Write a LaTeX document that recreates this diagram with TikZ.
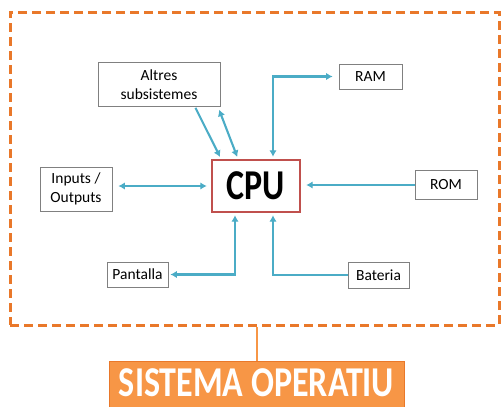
\documentclass[tikz,border=0pt]{standalone}
\usepackage{fontspec}
\setmainfont{Carlito}
\usetikzlibrary{positioning,arrows.meta}

\definecolor{linkc}{HTML}{4BACC6}
\definecolor{cpuc}{HTML}{C0504D}
\definecolor{osc}{HTML}{F79646}
\definecolor{framec}{HTML}{E9782A}

\newcommand{\tallbox}[1]{\scalebox{1}[1.25]{#1}}

\tikzset{
  part/.style={draw=black!50, line width=0.8pt, align=center, font=\fontsize{15.5}{19}\selectfont, inner sep=0pt},
  link/.style={draw=linkc, line width=2.1pt, arrows={-Latex[length=6.5pt,width=7.5pt]}},
  both/.style={link, arrows={Latex[length=6.5pt,width=7.5pt]-Latex[length=6.5pt,width=7.5pt]}}
}

\begin{document}
\begin{tikzpicture}[x=1pt,y=-1pt]
        \useasboundingbox (0,0) rectangle (501,407);
        %marc del sistema
        \node[draw=framec, line width=3pt, dash pattern=on 9pt off 5pt, minimum width=489pt, minimum height=313pt, inner sep=0pt] (os) at (254.5,168.5) {};

        %nucli
        \node[draw=cpuc, line width=2.4pt, minimum width=88pt, minimum height=52pt, inner sep=0pt, font=\bfseries\fontsize{34}{34}\selectfont] (cpu) at (256,186) {\tallbox{CPU}};

        %subsistemes
        \node[part, minimum width=122pt, minimum height=44pt] (altres) at (159,84.5) {Altres\\subsistemes};
        \node[part, minimum width=72pt, minimum height=44pt] (io) at (76,189) {Inputs /\\Outputs};
        \node[part, minimum width=63pt, minimum height=25pt] (ram) at (370.5,76.5) {RAM};
        \node[part, minimum width=62pt, minimum height=29pt] (rom) at (446,185) {ROM};
        \node[part, minimum width=61pt, minimum height=25pt] (pantalla) at (137.5,274.5) {Pantalla};
        \node[part, minimum width=61pt, minimum height=26pt] (bateria) at (378.5,275) {Bateria};

        %etiqueta
        \node[draw=framec, fill=osc, line width=1pt, minimum width=295pt, minimum height=46pt, inner sep=0pt, text=white, font=\bfseries\fontsize{34}{34}\selectfont, anchor=north] (sistema) at (256.5,360.5) {\raisebox{2pt}{\tallbox{SISTEMA OPERATIU}}};
        \draw[draw=osc, line width=2pt] (sistema.north) -- (sistema.north |- os.south);

        %connexions
        \draw[link, shorten <=1pt, shorten >=2pt] ([xshift=36pt]altres.south) -- ([xshift=-35pt]cpu.north);
        \draw[both, shorten <=3pt, shorten >=2pt] ([xshift=59pt]altres.south) -- ([xshift=-18pt]cpu.north);
        \draw[both, shorten <=6pt, shorten >=4pt] (io.east |- cpu.west) -- (cpu.west);
        \draw[both, shorten <=2pt, shorten >=6pt] ([xshift=17pt]cpu.north) |- (ram.west);
        \draw[link, shorten >=5pt] (rom.west) -- (rom.west -| cpu.east);
        \draw[both, shorten <=2pt, shorten >=2pt] ([xshift=-21pt]cpu.south) |- (pantalla.east);
        \draw[link, shorten >=2pt] (bateria.west) -| ([xshift=17pt]cpu.south);

    \end{tikzpicture}
\end{document}
